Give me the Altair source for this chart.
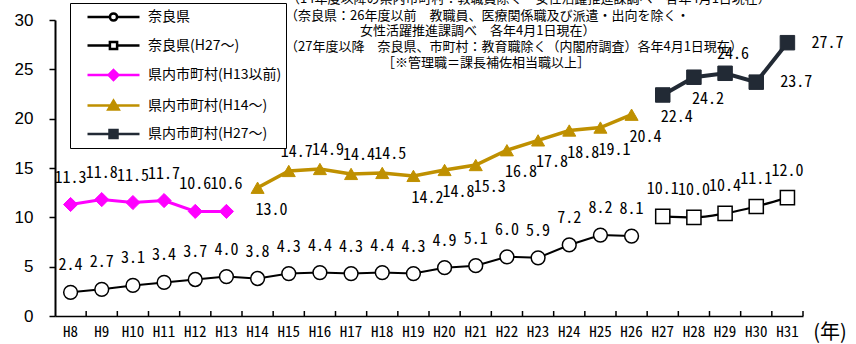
import altair as alt
import pandas as pd

# ---------------- data ----------------
years = [f"H{i}" for i in range(8, 32)]

series_names = ["奈良県", "奈良県(H27～)", "県内市町村(H13以前)", "県内市町村(H14～)", "県内市町村(H27～)"]

nara_years = years[0:19]
nara = [2.4, 2.7, 3.1, 3.4, 3.7, 4.0, 3.8, 4.3, 4.4, 4.3, 4.4, 4.3, 4.9, 5.1, 6.0, 5.9, 7.2, 8.2, 8.1]
nara_place = ["above"] * 19

nara27_years = years[19:24]
nara27 = [10.1, 10.0, 10.4, 11.1, 12.0]
nara27_place = ["above"] * 5

muni13_years = years[0:6]
muni13 = [11.3, 11.8, 11.5, 11.7, 10.6, 10.6]
muni13_place = ["above"] * 6

muni14_years = years[6:19]
muni14 = [13.0, 14.7, 14.9, 14.4, 14.5, 14.2, 14.8, 15.3, 16.8, 17.8, 18.8, 19.1, 20.4]
muni14_place = ["below", "above_n", "above_n", "above_n", "above_n"] + ["below"] * 8

muni27_years = years[19:24]
muni27 = [22.4, 24.2, 24.6, 23.7, 27.7]
muni27_place = ["below", "below", "above_n", "right", "right"]

notes = [
    "（14年度以降の県内市町村：教職員除く　女性活躍推進課調べ　各年4月1日現在）",
    "（奈良県：26年度以前　教職員、医療関係職及び派遣・出向を除く・",
    "女性活躍推進課調べ　各年4月1日現在）",
    "（27年度以降　奈良県、市町村：教育職除く（内閣府調査）各年4月1日現在）",
    "［※管理職＝課長補佐相当職以上］",
]

# ---------------- styles ----------------
W, H = 748, 296
LABEL_FONT = "Noto Sans Mono CJK JP, Noto Sans CJK JP"
JP_FONT = "Noto Sans CJK JP"
PLACE = {"above": (0, -27), "above_n": (8, -19), "below": (14, 22), "right": (40, 0)}

GOLD = "#BF9000"
DARK = "#222A35"
MAGENTA = "#FF00FF"

styles = {
    "奈良県": dict(line=dict(color="black", strokeWidth=2),
                 point=dict(shape="circle", fill="white", stroke="black", strokeWidth=1.5, size=190)),
    "奈良県(H27～)": dict(line=dict(color="black", strokeWidth=2.2, interpolate="monotone"),
                      point=dict(shape="square", fill="white", stroke="black", strokeWidth=1.5, size=200)),
    "県内市町村(H13以前)": dict(line=dict(color=MAGENTA, strokeWidth=3),
                         point=dict(shape="diamond", fill=MAGENTA, stroke=MAGENTA, strokeWidth=1, size=200)),
    "県内市町村(H14～)": dict(line=dict(color=GOLD, strokeWidth=3.5),
                        point=dict(shape="triangle-up", fill=GOLD, stroke=GOLD, strokeWidth=1, size=170)),
    "県内市町村(H27～)": dict(line=dict(color=DARK, strokeWidth=4),
                        point=dict(shape="square", fill=DARK, stroke=DARK, strokeWidth=1, size=210)),
}

legend_paths = [
    "M-3.25,0H-0.45M0.45,0H3.25M0.45,0A0.45,0.45,0,1,1,-0.45,0A0.45,0.45,0,1,1,0.45,0Z",
    "M-3.25,0H-0.45M0.45,0H3.25M-0.45,-0.45H0.45V0.45H-0.45Z",
    "M-3.25,0H3.25M0,-0.62L0.62,0L0,0.62L-0.62,0Z",
    "M-3.25,0H3.25M0,-0.6L0.65,0.5L-0.65,0.5Z",
    "M-3.25,0H3.25M-0.5,-0.5H0.5V0.5H-0.5Z",
]
legend_fills = ["white", "white", MAGENTA, GOLD, DARK]
legend_strokes = ["black", "black", MAGENTA, GOLD, DARK]

# ---------------- table ----------------
rows = []
for name, ys, vs, ps in [
    (series_names[0], nara_years, nara, nara_place),
    (series_names[1], nara27_years, nara27, nara27_place),
    (series_names[2], muni13_years, muni13, muni13_place),
    (series_names[3], muni14_years, muni14, muni14_place),
    (series_names[4], muni27_years, muni27, muni27_place),
]:
    for y, v, p in zip(ys, vs, ps):
        rows.append({"series": name, "year": y, "value": v, "place": p})
df = pd.DataFrame(rows)

xscale = alt.Scale(domain=years, paddingInner=0, paddingOuter=0)
yscale = alt.Scale(domain=[0, 30], nice=False, zero=True)

x_axis = alt.Axis(title=None, labelAngle=0, ticks=False, tickSize=0, domainColor="black",
                  domainWidth=1.5, labelFont=LABEL_FONT, labelFontSize=15, labelColor="black",
                  labelPadding=8)
y_axis = alt.Axis(title=None, values=[0, 5, 10, 15, 20, 25, 30], grid=False, tickSize=6,
                  tickColor="black", tickWidth=1.5, domainColor="black", domainWidth=2,
                  labelFont="Liberation Sans", labelFontSize=17, labelColor="black",
                  labelPadding=16)

X = alt.X("year:N", scale=xscale, axis=x_axis, sort=years)
Y = alt.Y("value:Q", scale=yscale, axis=y_axis)

layers = []

# x-axis inner ticks at band edges
tick_df = pd.DataFrame({"year": years})
layers.append(
    alt.Chart(tick_df).mark_rule(color="black", strokeWidth=1.5).encode(
        x=alt.X("year:N", scale=xscale, axis=x_axis, sort=years, bandPosition=1),
        y=alt.value(H), y2=alt.value(H - 5),
    )
)

for name in series_names:
    sub = df[df.series == name]
    st = styles[name]
    base = alt.Chart(sub).encode(x=X, y=Y)
    layers.append(base.mark_line(**st["line"]))
    layers.append(base.mark_point(filled=True, opacity=1, **st["point"]))
    for place, (dx, dy) in PLACE.items():
        if (sub.place == place).any():
            layers.append(
                base.transform_filter(alt.datum.place == place)
                .mark_text(dx=dx, dy=dy, font=LABEL_FONT, fontSize=16, color="black")
                .encode(text=alt.Text("value:Q", format=".1f"))
            )

# legend layer (invisible marks, drives the legend)
leg = alt.Legend(orient="none", legendX=15, legendY=-17, title=None, strokeColor="black",
                 fillColor="white", padding=4.5, symbolOffset=29.5, symbolSize=256,
                 symbolStrokeWidth=2.5, symbolOpacity=1, labelOffset=25, rowPadding=9.5,
                 labelFont=JP_FONT, labelFontSize=14, labelColor="black", labelLimit=0)
legend_df = pd.DataFrame({"series": series_names})
layers.append(
    alt.Chart(legend_df).mark_point(filled=True, opacity=0).encode(
        x=alt.value(0), y=alt.value(0),
        shape=alt.Shape("series:N", scale=alt.Scale(domain=series_names, range=legend_paths), legend=leg),
        fill=alt.Fill("series:N", scale=alt.Scale(domain=series_names, range=legend_fills), legend=leg),
        stroke=alt.Stroke("series:N", scale=alt.Scale(domain=series_names, range=legend_strokes), legend=leg),
    )
)

# notes at top
note_pos = [(232, -21), (230, -4), (305, 11), (230, 27), (327, 43)]
for txt, (nx, ny) in zip(notes, note_pos):
    layers.append(
        alt.Chart(pd.DataFrame({"t": [txt]})).mark_text(
            align="left", baseline="middle", font=JP_FONT, fontSize=13, color="black"
        ).encode(text="t:N", x=alt.value(nx), y=alt.value(ny))
    )

# (年) unit label
layers.append(
    alt.Chart(pd.DataFrame({"t": ["(年)"]})).mark_text(
        align="center", baseline="middle", font=JP_FONT, fontSize=20, color="black"
    ).encode(text="t:N", x=alt.value(775), y=alt.value(313))
)

chart = alt.layer(*layers).properties(
    width=W, height=H,
    padding={"left": 55, "top": 20, "right": 53, "bottom": 28},
    autosize=alt.AutoSizeParams(type="none"),
    background="white",
).configure_view(stroke=None)

chart.save("out.html", embed_options={"renderer": "svg", "actions": False})
